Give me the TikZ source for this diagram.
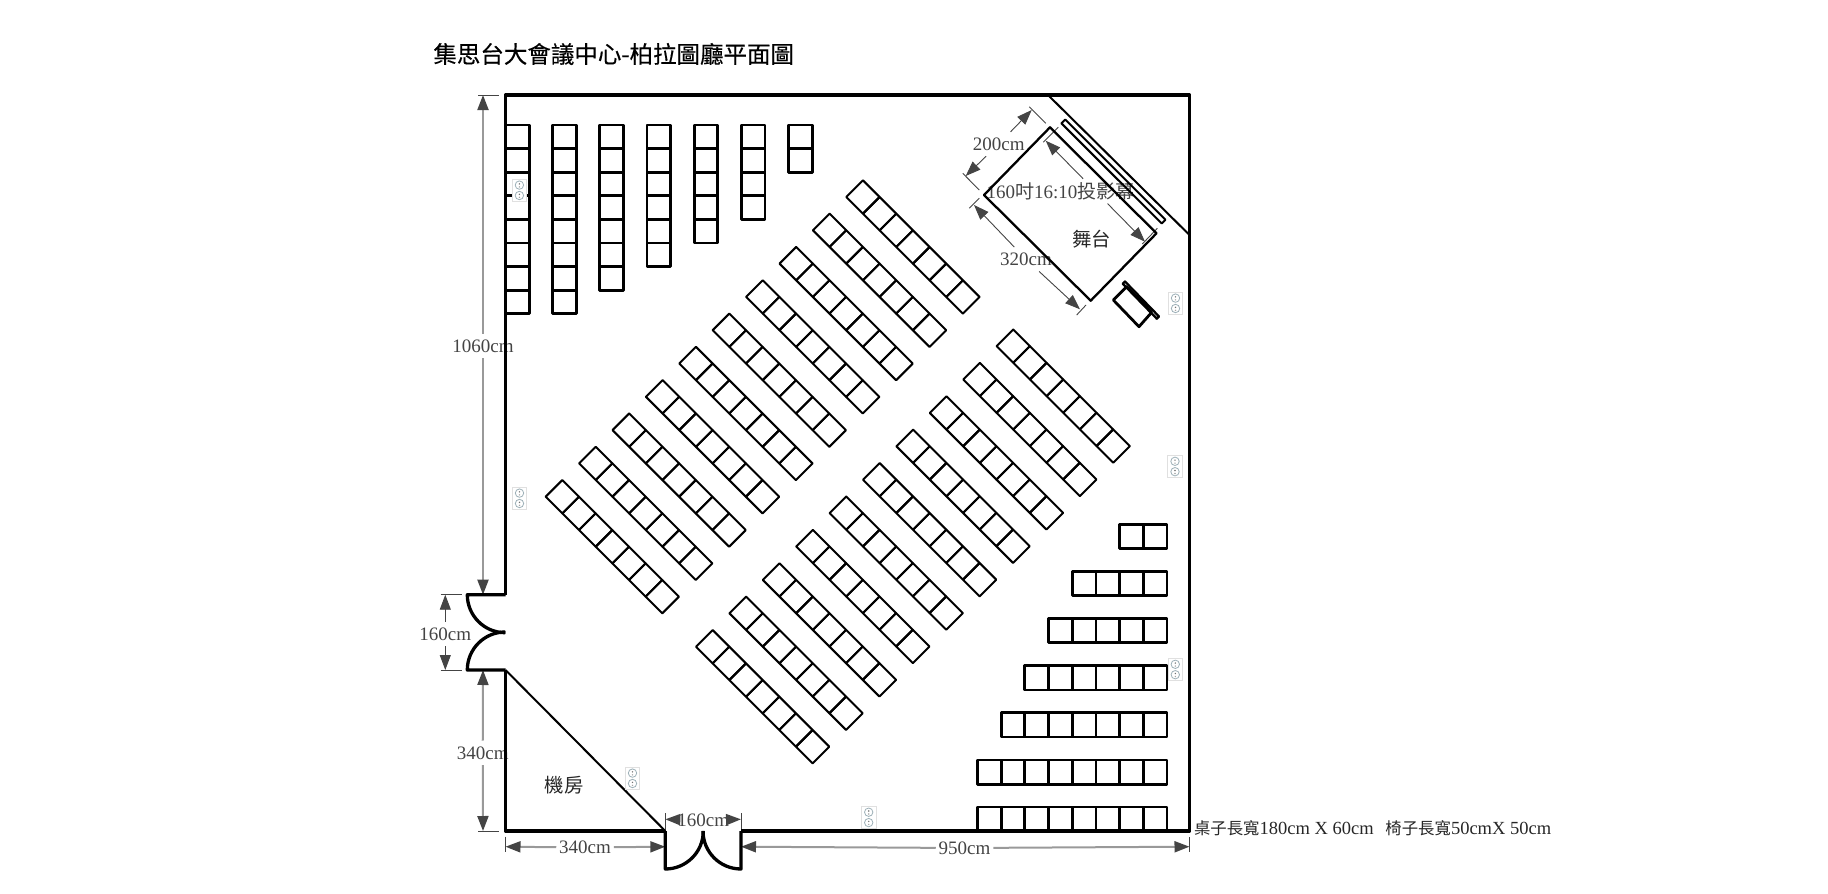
\documentclass[tikz,border=0pt]{standalone}
\usepackage{fontspec}
\setmainfont{Liberation Serif}
\newfontfamily\cjk{Noto Sans CJK TC}
\newfontfamily\cjktitle[FakeBold=0.35]{Noto Sans CJK TC}
\usepackage{xcolor}
\usetikzlibrary{positioning, arrows.meta, calc}
\definecolor{dimgray}{HTML}{444444}
\definecolor{dimline}{HTML}{999999}
\definecolor{plugline}{HTML}{9DB0B8}

\begin{document}
\begin{tikzpicture}[
    x=0.5pt, y=-0.5pt,
    wall/.style={draw=black, line width=1.65pt, line join=round},
    thinwall/.style={draw=black, line width=1pt},
    flatdesk/.style={draw=black, line width=1.4pt, line join=round},
    slantdesk/.style={draw=black, line width=1pt, line join=round},
    dimthick/.style={draw=dimline, line width=1pt, -{Triangle[length=7.5pt, width=5.5pt, color=dimgray]}},
    dimthin/.style={draw=dimgray, line width=0.45pt, -{Triangle[length=7.5pt, width=5.5pt, color=dimgray]}},
    dimtick/.style={draw=dimgray, line width=0.45pt},
    dimlabel/.style={text=dimgray, font=\fontsize{9.5}{10}\selectfont, inner sep=1.25pt, minimum height=11.8pt, yshift=-0.4pt},
    gaplabel/.style={minimum width=24pt, minimum height=12pt, inner sep=0pt},
    plainlabel/.style={text=black!85, font=\fontsize{9.7}{10}\selectfont\cjk, inner sep=0pt},
    memolabel/.style={text=black!85, font=\fontsize{9.25}{10}\selectfont, inner sep=0pt, anchor=west},
    outlet/.pic={
        \draw[black!12, fill=white, line width=0.4pt] (-7.2,-11) rectangle (7.2,11);
        \foreach \s in {-5.2,5.2} {
            \draw[plugline, line width=0.4pt] (0,\s) circle (4.2);
            \fill[black!55] (0,\s-1.2) circle (0.8);
            \fill[black!35] (0,\s+1.8) circle (0.8);
        }
    },
]
\useasboundingbox (0,0) rectangle (1828,894);

% title
\node[font=\fontsize{11.75}{14}\selectfont\cjktitle, inner sep=0pt, anchor=west](title) at (433,54){集思台大會議中心-柏拉圖廳平面圖};

% outer dimensions
\coordinate (wallTop) at (483,95);
\coordinate (doorTop) at (483,594.7);
\coordinate (doorBot) at (483,670);
\coordinate (wallBot) at (483,831);
\node[dimlabel](h1060) at (483,345){1060cm};
\draw[dimthick] (h1060) -- (wallTop);
\draw[dimthick] (h1060) -- (doorTop);
\draw[dimtick] (478,95) -- (499,95);
\node[dimlabel](h340) at (482.7,752){340cm};
\draw[dimthick] (h340) -- (doorBot);
\draw[dimthick] (h340) -- (wallBot);
\draw[dimtick] (478,831) -- (499,831);

\coordinate (leftA) at (445.3,594.7);
\coordinate (leftB) at (445.3,670);
\node[dimlabel](h160) at (445.3,633){160cm};
\draw[dimthin] (h160) -- (leftA);
\draw[dimthin] (h160) -- (leftB);
\draw[dimtick] (440.7,594.7) -- (461.7,594.7);
\draw[dimtick] (440.7,670) -- (461.7,670);

\coordinate (botA) at (505.5,846.7);
\coordinate (botB) at (665.3,846.7);
\coordinate (botC) at (741,846.7);
\coordinate (botD) at (1189.5,846.7);
\node[dimlabel](w340) at (585,846.7){340cm};
\draw[dimthick] (w340) -- (botA);
\draw[dimthick] (w340) -- (botB);
\node[dimlabel](w950) at (964.5,847.2){950cm};
\draw[dimthick] (w950) -- (botC);
\draw[dimthick] (w950) -- (botD);
\draw[dimtick] (505.5,836.7) -- (505.5,851.7);
\draw[dimtick] (1189.5,837.3) -- (1189.5,851.7);

\coordinate (gateA) at (665.3,819.3);
\coordinate (gateB) at (741,819.3);
\node[dimlabel, inner sep=0pt](w160) at (703.2,819.3){160cm};
\draw[dimthick] (w160) -- (gateA);
\draw[dimthick] (w160) -- (gateB);
\draw[dimtick] (665.3,813) -- (665.3,831);
\draw[dimtick] (741,813) -- (741,831);

% stage dimensions
\coordinate (depthA) at (1031.7,110);
\coordinate (depthB) at (965.7,176);
\node[dimlabel](d200) at (998.7,143.3){200cm};
\draw[dimthin] (d200) -- (depthA);
\draw[dimthin] (d200) -- (depthB);
\draw[dimtick] (1029.3,106.7) -- (1045.7,123.3);
\draw[dimtick] (962.7,173.3) -- (979.3,190);

\coordinate (sideA) at (974,205);
\coordinate (sideB) at (1080,309.3);
\node[dimlabel](d320) at (1026,258.5){320cm};
\draw[dimthin] (d320) -- (sideA);
\draw[dimthin] (d320) -- (sideB);
\draw[dimtick] (969.3,208.3) -- (979.3,198.3);
\draw[dimtick] (1076.7,315) -- (1086,305);

\coordinate (scrA) at (1045.7,140.7);
\coordinate (scrB) at (1145,241.7);
\node[gaplabel](scrgap) at ($(scrA)!0.5!(scrB)$){};
\draw[dimthin] (scrgap) -- (scrA);
\draw[dimthin] (scrgap) -- (scrB);
\draw[dimtick] (1043.3,142.3) -- (1058.3,127.3);
\draw[dimtick] (1142.3,244) -- (1157.3,228.3);
\node[dimlabel](d160) at (1060.5,190.5){160{\cjk 吋}16:10{\cjk 投影幕}};

% room
\draw[wall] (505.5,594.7) -- (505.5,95) -- (1189.5,95) -- (1189.5,831) -- (741,831);
\draw[wall] (665.3,831) -- (505.5,831) -- (505.5,670);
\draw[wall] (505.5,594.7) -- (467.3,594.7) arc[start angle=180, end angle=90, radius=38];
\draw[wall] (505.5,670) -- (467.3,670) arc[start angle=180, end angle=270, radius=38];
\draw[wall] (665.3,831) -- (665.3,869) arc[start angle=90, end angle=0, radius=38];
\draw[wall] (741,831) -- (741,869) arc[start angle=90, end angle=180, radius=38];
\draw[thinwall] (505.5,670) -- (665.3,831);
\draw[thinwall] (1048,95) -- (1189.5,235);

% stage, screen, lectern
\coordinate (stageN) at (1050,127.3);
\coordinate (stageE) at (1156.5,233.3);
\coordinate (stageS) at (1090.7,300.7);
\coordinate (stageW) at (984,195);
\draw[slantdesk, line width=1.15pt] (stageN) -- (stageE) -- (stageS) -- (stageW) -- cycle;
\draw[slantdesk] (1065.2,119.5) -- (1165.5,219.7) -- (1161.7,223.5) -- (1061.4,123.3) -- cycle;
\draw[flatdesk] (1126.7,286.7) -- (1151.7,312.3) -- (1139,326.7) -- (1113.3,300) -- cycle;
\draw[slantdesk, line width=1.15pt] (1125,281.5) -- (1159,316.5) -- (1156.8,318.7) -- (1122.8,283.7) -- cycle;
\node[plainlabel](stagename) at (1091.7,238.7){舞台};
\node[plainlabel](roomname) at (564,785.3){機房};

% desks along the left and top
\foreach \col/\len in {0/8,1/8,2/7,3/6,4/5,5/4,6/2} {
    \foreach \i in {1,...,\len} {
        \draw[flatdesk] ({505.5+47.15*\col},{125+23.6*(\i-1)}) rectangle ++(23.7,23.6);
    }
}
% desks along the right and bottom
\foreach \row/\len in {0/2,1/4,2/5,3/6,4/7,5/8,6/8} {
    \foreach \i in {1,...,\len} {
        \draw[flatdesk] ({1167-23.7*\i},{524.4+47.1*\row}) rectangle ++(23.7,24.2);
    }
}
% slanted desks, upper block
\foreach \row in {0,...,9} {
    \foreach \i in {0,...,6} {
        \draw[slantdesk] ({545.7+33.4*\row+16.66*\i},{496.7-33.3*\row+16.66*\i}) -- ++(16.66,-16.66) -- ++(16.66,16.66) -- ++(-16.66,16.66) -- cycle;
    }
}
% slanted desks, lower block
\foreach \row in {0,...,9} {
    \foreach \i in {0,...,6} {
        \draw[slantdesk] ({696+33.4*\row+16.66*\i},{646.7-33.4*\row+16.66*\i}) -- ++(16.66,-16.66) -- ++(16.66,16.66) -- ++(-16.66,16.66) -- cycle;
    }
}

% outlets
\foreach \px/\py in {519.4/190.3, 519.5/498.3, 1175.5/303.3, 1175/466.5, 1175.3/669.5, 632.5/778.3, 868.7/817.4} {
    \pic at (\px,\py) {outlet};
}

% size note
\node[memolabel](deskmemo) at (1193.6,828.2){{\cjk\fontsize{8.2}{10}\selectfont 桌子長寬}180cm X 60cm};
\node[memolabel](chairmemo) at (1385,828.2){{\cjk\fontsize{8.2}{10}\selectfont 椅子長寬}50cmX 50cm};
\end{tikzpicture}
\end{document}
